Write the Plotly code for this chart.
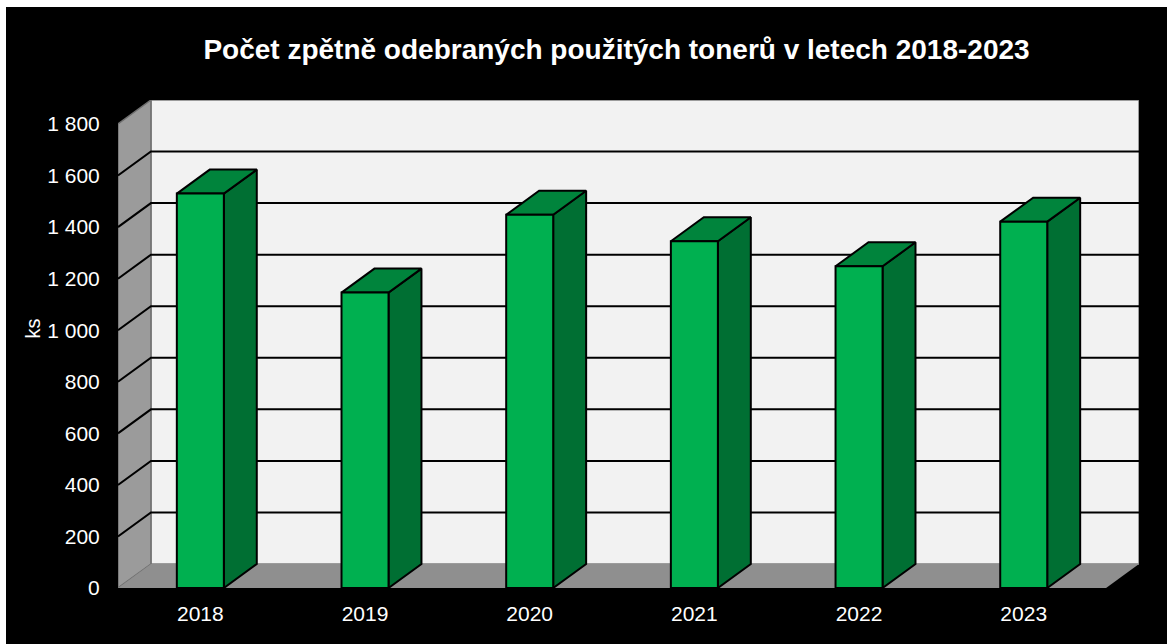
import plotly.graph_objects as go

years = ["2018", "2019", "2020", "2021", "2022", "2023"]
values = [1530, 1146, 1448, 1345, 1248, 1421]
y_ticks = [0, 200, 400, 600, 800, 1000, 1200, 1400, 1600, 1800]
y_labels = ["0", "200", "400", "600", "800", "1 000", "1 200", "1 400", "1 600", "1 800"]
title = "Počet zpětně odebraných použitých tonerů v letech 2018-2023"

DX = 0.2      # depth of the box in category units
DY = 93       # depth of the box in value units
BAR = 0.2855  # bar width in category units
X0, X1 = -0.5, 5.5
YMAX = y_ticks[-1]

def poly(fig, xs, ys, fill, line=None, width=0):
    fig.add_trace(go.Scatter(
        x=xs, y=ys, mode="lines", fill="toself", fillcolor=fill,
        line=dict(color=line or fill, width=width), hoverinfo="skip",
        showlegend=False))

fig = go.Figure()

# back wall, left wall, floor
poly(fig, [X0+DX, X1+DX, X1+DX, X0+DX, X0+DX], [DY, DY, YMAX+DY, YMAX+DY, DY], "#f2f2f2", "#808080", 1.5)
poly(fig, [X0, X0+DX, X0+DX, X0, X0], [0, DY, YMAX+DY, YMAX, 0], "#9b9b9b", "#707070", 1.5)
poly(fig, [X0, X1, X1+DX, X0+DX, X0], [0, 0, DY, DY, 0], "#8f8f8f")

# gridlines
gx, gy = [], []
for t in y_ticks[1:-1]:
    gx += [X0, X0+DX, X1+DX, None]
    gy += [t, t+DY, t+DY, None]
fig.add_trace(go.Scatter(x=gx, y=gy, mode="lines", line=dict(color="#000000", width=2),
                         hoverinfo="skip", showlegend=False))

# bars
for i, v in enumerate(values):
    l, r = i-BAR/2, i+BAR/2
    poly(fig, [r, r+DX, r+DX, r, r], [0, DY, v+DY, v, 0], "#006f33", "#000000", 2)
    poly(fig, [l, r, r+DX, l+DX, l], [v, v, v+DY, v+DY, v], "#00843c", "#000000", 2)
    poly(fig, [l, r, r, l, l], [0, 0, v, v, 0], "#00b050", "#000000", 2)

font = "Liberation Sans, Arial, sans-serif"
W, H = 1161, 637
fig.update_layout(
    width=W, height=H, autosize=False,
    paper_bgcolor="#000000", plot_bgcolor="#000000",
    margin=dict(l=112, r=28, t=93, b=56),
    font=dict(family=font, color="#ffffff", size=21),
    showlegend=False,
    title=dict(text=f"<b>{title}</b>", x=(616.5-6)/W, xanchor="center",
               y=1-(49-7)/H, yanchor="middle", font=dict(size=28, color="#ffffff")),
    xaxis=dict(range=[X0, X1+DX], tickvals=list(range(len(years))), ticktext=years,
               showgrid=False, zeroline=False, showline=False, ticks="outside",
               ticklen=7, tickcolor="rgba(0,0,0,0)", tickfont=dict(size=21)),
    yaxis=dict(range=[0, YMAX+DY], tickvals=y_ticks, ticktext=y_labels,
               showgrid=False, zeroline=False, showline=False, ticks="outside",
               ticklen=13, tickcolor="rgba(0,0,0,0)", tickfont=dict(size=21)),
    annotations=[dict(text="ks", xref="paper", yref="y", x=-0.083, y=1008, xanchor="center",
                      yanchor="middle", textangle=-90, showarrow=False,
                      font=dict(size=20, color="#ffffff"))],
)

post = "document.body.style.margin='7px 0 0 6px';document.body.style.overflow='hidden';document.body.style.background='#ffffff';"
fig.write_html("out.html", post_script=post)
